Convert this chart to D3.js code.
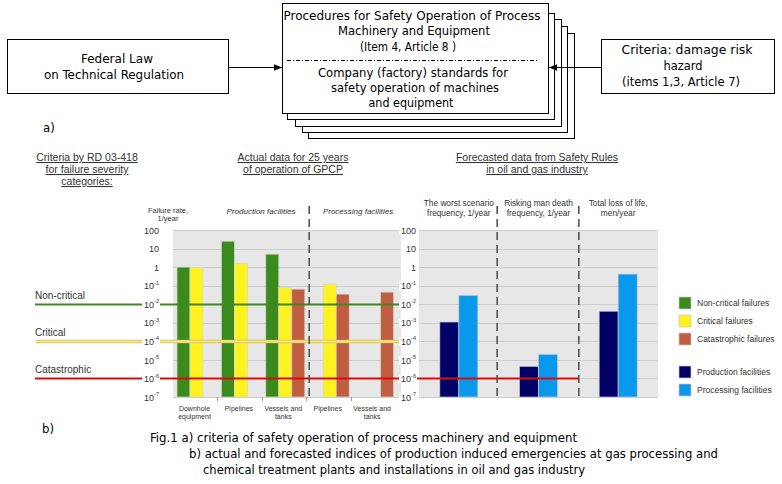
<!DOCTYPE html>
<html>
<head>
<meta charset="utf-8">
<script src="https://cdn.jsdelivr.net/npm/d3@7"></script>
<style>
  body { margin: 0; background: #fff; }
  svg { display: block; }
  .narrow { font-family: "Liberation Sans Narrow", "Arial Narrow", "DejaVu Sans Condensed", sans-serif; font-size: 13px; fill: #000; }
  .sans { font-family: "Liberation Sans", Arial, sans-serif; fill: #333; }
</style>
</head>
<body>
<div id="chart"></div>
<script>
// ---- data ----
var groupIds = ["prodDownhole", "prodPipelines", "prodVessels", "procPipelines", "procVessels"];
var groupLabels = [["Downhole", "equipment"], ["Pipelines"], ["Vessels and", "tanks"], ["Pipelines"], ["Vessels and", "tanks"]];
var severityNames = ["Non-critical failures", "Critical failures", "Catastrophic failures"];
var nonCritical = [1.0, 25, 5, null, null];
var critical = [0.95, 1.6, 0.08, 0.12, null];
var catastrophic = [null, null, 0.065, 0.035, 0.045];

var forecastIds = ["worst", "risking", "loss"];
var forecastLabels = [["The worst scenario", "frequency, 1/year"], ["Risking man death", "frequency, 1/year"], ["Total loss of life,", "men/year"]];
var facilityNames = ["Production facilities", "Processing facilities"];
var production = [0.0011, 4.5e-6, 0.0042];
var processing = [0.03, 2e-5, 0.42];

var thresholdNames = ["Non-critical", "Critical", "Catastrophic"];
var thresholdValues = [1e-2, 1e-4, 1e-6];

var yTicks = [100, 10, 1, 1e-1, 1e-2, 1e-3, 1e-4, 1e-5, 1e-6, 1e-7];

var severityColors = ["#3a8a1c", "#fff21f", "#bf5e40"];
var facilityColors = ["#000066", "#0898ec"];

// ---- setup ----
var width = 782, height = 484;
var svg = d3.select("#chart").append("svg")
  .attr("width", width)
  .attr("height", height);

// ================= part a) : block diagram =================
var diagram = svg.append("g");

// stacked sheets behind the main box, back to front
var sheets = [
  { x0: 308, y0: 33, x1: 574, y1: 138 },
  { x0: 302, y0: 26, x1: 567, y1: 132 },
  { x0: 295, y0: 19, x1: 561, y1: 126 },
  { x0: 287, y0: 13, x1: 554, y1: 119 },
  { x0: 282, y0: 3, x1: 548, y1: 113 }
];
diagram.selectAll("rect.sheet")
  .data(sheets)
  .enter().append("rect")
  .attr("class", "sheet")
  .attr("x", function(d) { return d.x0 + 0.5; })
  .attr("y", function(d) { return d.y0 + 0.5; })
  .attr("width", function(d) { return d.x1 - d.x0; })
  .attr("height", function(d) { return d.y1 - d.y0; })
  .attr("fill", "#fff")
  .attr("stroke", "#000")
  .attr("stroke-width", 1);

// side boxes
diagram.append("rect").attr("x", 7.5).attr("y", 39.5).attr("width", 221).attr("height", 54)
  .attr("fill", "#fff").attr("stroke", "#000");
diagram.append("rect").attr("x", 601.5).attr("y", 39.5).attr("width", 173).attr("height", 54)
  .attr("fill", "#fff").attr("stroke", "#000");

// arrows
var defs = svg.append("defs");
defs.append("marker")
  .attr("id", "arrow")
  .attr("viewBox", "0 0 10 10")
  .attr("refX", 10).attr("refY", 5)
  .attr("markerWidth", 8).attr("markerHeight", 8)
  .attr("orient", "auto")
  .append("path").attr("d", "M0,1 L10,5 L0,9 Z").attr("fill", "#000");

diagram.append("line").attr("x1", 229).attr("y1", 67.5).attr("x2", 282).attr("y2", 67.5)
  .attr("stroke", "#000").attr("marker-end", "url(#arrow)");
diagram.append("line").attr("x1", 601).attr("y1", 67.5).attr("x2", 549).attr("y2", 67.5)
  .attr("stroke", "#000").attr("marker-end", "url(#arrow)");

// dash-dot separator in the main box
diagram.append("line").attr("x1", 287).attr("y1", 60.5).attr("x2", 537).attr("y2", 60.5)
  .attr("stroke", "#000").attr("stroke-dasharray", "4,2,1,2");

var diagramTexts = [
  { t: "Procedures for Safety Operation of Process", x: 412, y: 20, w: 257 },
  { t: "Machinery and Equipment", x: 414, y: 35, w: 152 },
  { t: "(Item 4, Article 8 )", x: 408, y: 51, w: 96 },
  { t: "Company (factory) standards for", x: 413, y: 77, w: 190 },
  { t: "safety operation of machines", x: 415, y: 92, w: 168 },
  { t: "and equipment", x: 411, y: 107, w: 85 },
  { t: "Federal Law", x: 117, y: 63, w: 72 },
  { t: "on Technical Regulation", x: 114, y: 79, w: 140 },
  { t: "Criteria: damage risk", x: 687, y: 54, w: 131 },
  { t: "hazard", x: 683, y: 70, w: 39 },
  { t: "(items 1,3, Article 7)", x: 681, y: 86, w: 118 }
];
diagram.selectAll("text.dt")
  .data(diagramTexts)
  .enter().append("text")
  .attr("class", "dt narrow")
  .attr("x", function(d) { return d.x; })
  .attr("y", function(d) { return d.y; })
  .attr("text-anchor", "middle")
  .attr("textLength", function(d) { return d.w; })
  .attr("lengthAdjust", "spacingAndGlyphs")
  .text(function(d) { return d.t; });

svg.append("text").attr("class", "narrow").attr("x", 43).attr("y", 132).text("a)");

// ================= part b) : charts =================
var y = d3.scaleLog().domain([1e-7, 100]).range([397, 230]);

var xL = d3.scaleBand().domain(groupIds).range([173, 395]);
var xLsub = d3.scaleBand().domain([0, 1, 2]).range([4, 43]);
var xR = d3.scaleBand().domain(forecastIds).range([419, 658]);
var xRsub = d3.scaleBand().domain([0, 1]).range([xR.bandwidth() / 2 - 19, xR.bandwidth() / 2 + 19]);

var leftPlot = { x0: 173, x1: 401 };
var rightPlot = { x0: 419, x1: 658 };

// backgrounds and grid
[leftPlot, rightPlot].forEach(function(p) {
  svg.append("rect")
    .attr("x", p.x0).attr("y", y(100))
    .attr("width", p.x1 - p.x0).attr("height", y(1e-7) - y(100))
    .attr("fill", "#e7e7e7");
  svg.append("g").selectAll("line")
    .data(yTicks)
    .enter().append("line")
    .attr("x1", p.x0).attr("x2", p.x1)
    .attr("y1", function(d) { return Math.round(y(d)) + 0.5; })
    .attr("y2", function(d) { return Math.round(y(d)) + 0.5; })
    .attr("stroke", "#cdcdcd");
});

// left chart bars
var severitySeries = [nonCritical, critical, catastrophic];
var leftBars = [];
severitySeries.forEach(function(series, s) {
  series.forEach(function(v, i) {
    if (v != null) leftBars.push({ g: groupIds[i], s: s, v: v });
  });
});
svg.append("g").selectAll("rect")
  .data(leftBars)
  .enter().append("rect")
  .attr("x", function(d) { return xL(d.g) + xLsub(d.s); })
  .attr("width", xLsub.bandwidth())
  .attr("y", function(d) { return y(d.v); })
  .attr("height", function(d) { return y(1e-7) - y(d.v); })
  .attr("fill", function(d) { return severityColors[d.s]; })
  .attr("stroke", "#d6d6d6")
  .attr("stroke-width", 0.7);

// right chart bars
var facilitySeries = [production, processing];
var rightBars = [];
facilitySeries.forEach(function(series, s) {
  series.forEach(function(v, i) {
    rightBars.push({ g: forecastIds[i], s: s, v: v });
  });
});
svg.append("g").selectAll("rect")
  .data(rightBars)
  .enter().append("rect")
  .attr("x", function(d) { return xR(d.g) + xRsub(d.s); })
  .attr("width", xRsub.bandwidth())
  .attr("y", function(d) { return y(d.v); })
  .attr("height", function(d) { return y(1e-7) - y(d.v); })
  .attr("fill", function(d) { return facilityColors[d.s]; })
  .attr("stroke", "#c8c8d8")
  .attr("stroke-width", 0.7);

// small tick marks between categories on the left chart
svg.append("g").selectAll("line")
  .data(groupIds.slice(1))
  .enter().append("line")
  .attr("x1", function(d) { return Math.round(xL(d)) + 0.5; })
  .attr("x2", function(d) { return Math.round(xL(d)) + 0.5; })
  .attr("y1", 397).attr("y2", 401)
  .attr("stroke", "#999");

// category labels
svg.append("g").selectAll("text")
  .data(groupIds)
  .enter().append("text")
  .attr("class", "sans")
  .attr("font-size", 7)
  .attr("text-anchor", "middle")
  .attr("x", function(d) { return xL(d) + xLsub(1) + xLsub.bandwidth() / 2 - 2; })
  .attr("y", 411)
  .each(function(d, i) {
    var t = d3.select(this);
    groupLabels[i].forEach(function(line, k) {
      t.append("tspan").attr("x", t.attr("x")).attr("dy", k ? 8 : 0).text(line);
    });
  });

// threshold lines
var lineEnds = [leftPlot.x1, leftPlot.x1, xR(forecastIds[2])];
thresholdValues.forEach(function(v, i) {
  var yy = Math.round(y(v)) + 0.5;
  if (i === 1) {
    svg.append("line").attr("x1", 36).attr("x2", lineEnds[i]).attr("y1", yy).attr("y2", yy)
      .attr("stroke", "#cdb86a").attr("stroke-width", 3.5);
    svg.append("line").attr("x1", 36).attr("x2", lineEnds[i]).attr("y1", yy).attr("y2", yy)
      .attr("stroke", "#fbe97a").attr("stroke-width", 1.8);
  } else {
    svg.append("line").attr("x1", 35).attr("x2", lineEnds[i]).attr("y1", yy).attr("y2", yy)
      .attr("stroke", i === 0 ? "#3d8a24" : "#dd0a0a").attr("stroke-width", 2.2);
  }
  svg.append("text").attr("class", "sans").attr("font-size", 10).attr("fill", "#222")
    .attr("x", 35).attr("y", yy - 6).text(thresholdNames[i]);
});

// separators
var sepX = [xL(groupIds[3]) + 3, xR(forecastIds[1]) - 1.5, xR(forecastIds[2]) + 0.5];
svg.append("g").selectAll("line")
  .data(sepX)
  .enter().append("line")
  .attr("x1", function(d) { return d; }).attr("x2", function(d) { return d; })
  .attr("y1", 206).attr("y2", 397)
  .attr("stroke", "#555")
  .attr("stroke-width", 1.6)
  .attr("stroke-dasharray", "8,5");

// y axes
function formatTick(sel) {
  sel.each(function(d) {
    var t = d3.select(this);
    var e = Math.round(Math.log10(d));
    t.text(null);
    if (e >= 0) {
      t.text(String(d));
    } else {
      t.append("tspan").text("10");
      t.append("tspan").attr("dy", -4.5).attr("font-size", 5.5).text(String(e));
    }
  });
}
function drawAxis(x, pad) {
  var g = svg.append("g")
    .attr("transform", "translate(" + x + ",0)")
    .call(d3.axisLeft(y).tickValues(yTicks).tickSize(0).tickPadding(pad).tickFormat(function() { return ""; }));
  g.select(".domain").remove();
  g.selectAll(".tick text")
    .attr("class", "sans")
    .attr("font-size", 9)
    .attr("fill", "#333")
    .attr("font-family", null)
    .attr("dy", "0.35em")
    .call(formatTick);
  // white backing so the threshold lines break around the labels
  g.selectAll(".tick").each(function() {
    var tk = d3.select(this);
    var bb = tk.select("text").node().getBBox();
    tk.insert("rect", "text")
      .attr("x", bb.x - 2).attr("y", bb.y + 2)
      .attr("width", bb.width + 3).attr("height", bb.height - 3)
      .attr("fill", "#fff");
  });
}
drawAxis(leftPlot.x0, 14);
drawAxis(rightPlot.x0, 3);

// headings
var headings = [
  { lines: ["Criteria by RD 03-418", "for failure severity", "categories:"], x: 87 },
  { lines: ["Actual data for 25 years", "of operation of GPCP"], x: 293 },
  { lines: ["Forecasted data from Safety Rules", "in oil and gas industry"], x: 537 }
];
headings.forEach(function(h) {
  h.lines.forEach(function(line, k) {
    svg.append("text").attr("class", "sans").attr("font-size", 10.5).attr("fill", "#333")
      .attr("text-anchor", "middle").attr("text-decoration", "underline")
      .attr("x", h.x).attr("y", 161 + k * 12).text(line);
  });
});

// sub-headings
svg.append("text").attr("class", "sans").attr("font-size", 7.5).attr("text-anchor", "middle")
  .attr("x", 168).attr("y", 213).text("Failure rate,");
svg.append("text").attr("class", "sans").attr("font-size", 7.5).attr("text-anchor", "middle")
  .attr("x", 168).attr("y", 221).text("1/year");
svg.append("text").attr("class", "sans").attr("font-size", 8).attr("font-style", "italic")
  .attr("text-anchor", "middle").attr("x", 261).attr("y", 214).text("Production facilities");
svg.append("text").attr("class", "sans").attr("font-size", 8).attr("font-style", "italic")
  .attr("text-anchor", "middle").attr("x", 358).attr("y", 214).text("Processing facilities");

svg.append("g").selectAll("text")
  .data(forecastIds)
  .enter().append("text")
  .attr("class", "sans")
  .attr("font-size", 8.3)
  .attr("text-anchor", "middle")
  .attr("x", function(d) { return xR(d) + xR.bandwidth() / 2; })
  .attr("y", 206)
  .each(function(d, i) {
    var t = d3.select(this);
    forecastLabels[i].forEach(function(line, k) {
      t.append("tspan").attr("x", t.attr("x")).attr("dy", k ? 10 : 0).text(line);
    });
  });

// legend
var legendItems = severityNames.map(function(n, i) { return { name: n, color: severityColors[i] }; })
  .concat(facilityNames.map(function(n, i) { return { name: n, color: facilityColors[i] }; }));
var legendY = [297, 315, 333, 366, 384];
var legend = svg.append("g").selectAll("g")
  .data(legendItems)
  .enter().append("g")
  .attr("transform", function(d, i) { return "translate(679," + legendY[i] + ")"; });
legend.append("rect")
  .attr("width", 12).attr("height", 12)
  .attr("fill", function(d) { return d.color; })
  .attr("stroke", "#c8c8c8").attr("stroke-width", 0.7);
legend.append("text")
  .attr("class", "sans")
  .attr("font-size", 8.5)
  .attr("x", 18).attr("y", 9)
  .text(function(d) { return d.name; });

// caption
svg.append("text").attr("class", "narrow").attr("x", 42).attr("y", 433).text("b)");
var caption = [
  { t: "Fig.1  a) criteria of safety operation of process machinery and equipment", x: 150, y: 442, w: 427 },
  { t: "b) actual and forecasted indices of production induced emergencies at gas processing and", x: 189, y: 458, w: 529 },
  { t: "chemical treatment plants and installations in oil and gas industry", x: 203, y: 474, w: 382 }
];
svg.append("g").selectAll("text")
  .data(caption)
  .enter().append("text")
  .attr("class", "narrow")
  .attr("x", function(d) { return d.x; })
  .attr("y", function(d) { return d.y; })
  .attr("textLength", function(d) { return d.w; })
  .attr("lengthAdjust", "spacingAndGlyphs")
  .text(function(d) { return d.t; });
</script>
</body>
</html>
